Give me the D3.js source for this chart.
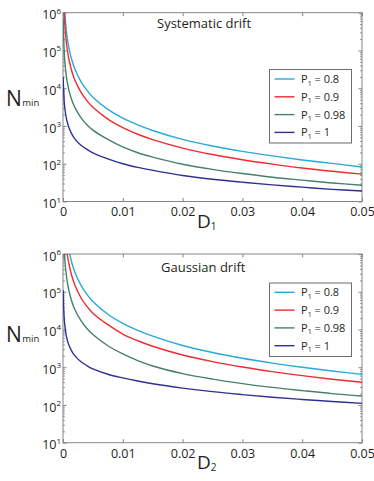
<!DOCTYPE html>
<html>
<head>
<meta charset="utf-8">
<script src="https://cdn.jsdelivr.net/npm/d3@7"></script>
<style>
  html, body { margin: 0; padding: 0; background: #fff; }
  svg { display: block; }
  text { font-family: "Open Sans", "Noto Sans", sans-serif; fill: #231f20; }
</style>
</head>
<body>
<svg id="chart" width="374" height="481"></svg>
<script>
// ---------------- data ----------------
const D = [0.00003, 0.00005, 0.0001, 0.0002, 0.0003, 0.0005, 0.00075, 0.001, 0.0015, 0.002,
           0.003, 0.004, 0.005, 0.0075, 0.01, 0.0125, 0.015, 0.02, 0.025, 0.03, 0.035, 0.04, 0.045, 0.05];

const legendLabels = ["0.8", "0.9", "0.98", "1"];
const seriesColors = ["#27a9d9", "#ee2b30", "#44806a", "#2e3192"];

// Systematic drift (top panel), N_min vs D1
const sysP080 = [null, null, null, 2200000, 1060000, 412000, 195000, 114000, 54000, 31700,
                 15000, 8800, 5800, 2750, 1610, 1070, 760, 440, 294, 212, 161, 126, 102, 82];
const sysP090 = [null, null, 3600000, 1030000, 496000, 198000, 95300, 56800, 27400, 16300,
                 7860, 4680, 3135, 1520, 900, 603, 434, 260, 176, 128, 98, 77, 63, 53];
const sysP098 = [700000, 480000, 260000, 97000, 52700, 24500, 13400, 8670, 4720, 3070,
                 1670, 1085, 776, 440, 278, 195, 150, 97, 71, 55, 44, 36.8, 31, 27];
const sysP100 = [20000, 15000, 9000, 4500, 3000, 1800, 1200, 900, 600, 450,
                 310, 240, 195, 135, 100, 80, 67, 49, 39, 32.5, 27.5, 24, 21, 19];

// Gaussian drift (bottom panel), N_min vs D2
const gauP080 = [null, null, null, null, null, null, null, 1240000, 567000, 325000,
                 149000, 85300, 55500, 25400, 14600, 9470, 6660, 3770, 2460, 1730, 1287, 996, 795, 648];
const gauP090 = [null, null, null, null, null, 1930000, 913000, 536000, 254000, 149000,
                 69400, 40900, 27100, 13400, 7570, 5030, 3600, 2110, 1406, 1010, 762, 597, 482, 398];
const gauP098 = [null, null, null, 1490000, 763000, 328000, 168000, 105000, 53600, 33300,
                 17100, 10600, 7350, 3700, 2250, 1500, 1076, 677, 484, 368, 292, 240, 200, 173];
const gauP100 = [110000, 80000, 42000, 20000, 13000, 7500, 5000, 3800, 2600, 2000,
                 1400, 1100, 900, 650, 520, 430, 365, 280, 225, 188, 160, 140, 124, 110];

const xTicks = [0, 0.01, 0.02, 0.03, 0.04, 0.05];
const xTickLabels = ["0", "0.01", "0.02", "0.03", "0.04", "0.05"];
const yTicks = [1e1, 1e2, 1e3, 1e4, 1e5, 1e6];
const yExponents = ["1", "2", "3", "4", "5", "6"];

const panels = [
  { title: "Systematic drift", xsub: "1", series: [sysP080, sysP090, sysP098, sysP100],
    top: 12.7, bottom: 201.5, titleX: 157, titleY: 28, nY: 106, legTop: 69.5, legRow0: 79 },
  { title: "Gaussian drift", xsub: "2", series: [gauP080, gauP090, gauP098, gauP100],
    top: 254, bottom: 442.7, titleX: 161, titleY: 272, nY: 342, legTop: 283, legRow0: 292.3 }
];

// ---------------- drawing ----------------
const svg = d3.select("#chart");
const left = 63, right = 362;
const axisColor = "#858585";

const minorTicks = [];
for (let e = 1; e < 6; e++) for (let k = 2; k <= 9; k++) minorTicks.push(k * Math.pow(10, e));

panels.forEach((p, pi) => {
  const g = svg.append("g");
  const x = d3.scaleLinear().domain([0, 0.05]).range([left, right]);
  const y = d3.scaleLog().domain([10, 1e6]).range([p.bottom, p.top]);

  const clipId = "clip" + pi;
  g.append("clipPath").attr("id", clipId).append("rect")
    .attr("x", left).attr("y", p.top).attr("width", right - left).attr("height", p.bottom - p.top);

  // minor y ticks (left and right)
  g.append("g").attr("transform", `translate(${left},0)`)
    .call(d3.axisLeft(y).tickValues(minorTicks).tickSize(-1.8).tickFormat(""))
    .call(s => s.select(".domain").remove())
    .call(s => s.selectAll("line").attr("stroke", axisColor));
  g.append("g").attr("transform", `translate(${right},0)`)
    .call(d3.axisRight(y).tickValues(minorTicks).tickSize(-1.8).tickFormat(""))
    .call(s => s.select(".domain").remove())
    .call(s => s.selectAll("line").attr("stroke", axisColor));

  // major y ticks left with labels
  const ya = g.append("g").attr("transform", `translate(${left},0)`)
    .call(d3.axisLeft(y).tickValues(yTicks).tickSize(-3.5).tickPadding(2).tickFormat(""));
  ya.select(".domain").remove();
  ya.selectAll("line").attr("stroke", axisColor);
  ya.selectAll(".tick text").each(function(d, i) {
    const t = d3.select(this);
    t.attr("dy", "0.5em").attr("font-size", "12.5px").attr("fill", "#231f20")
      .attr("font-family", '"Open Sans", sans-serif');
    t.append("tspan").text("10");
    t.append("tspan").attr("dy", "-0.72em").attr("font-size", "8px").text(yExponents[yTicks.indexOf(d)]);
  });
  g.append("g").attr("transform", `translate(${right},0)`)
    .call(d3.axisRight(y).tickValues(yTicks).tickSize(-3.5).tickFormat(""))
    .call(s => s.select(".domain").remove())
    .call(s => s.selectAll("line").attr("stroke", axisColor));

  // x axis bottom with labels
  const xa = g.append("g").attr("transform", `translate(0,${p.bottom})`)
    .call(d3.axisBottom(x).tickValues(xTicks).tickSize(-3.5).tickPadding(6)
      .tickFormat((d, i) => xTickLabels[i]));
  xa.select(".domain").remove();
  xa.selectAll("line").attr("stroke", axisColor);
  xa.selectAll("text").attr("font-size", "12.5px").attr("fill", "#231f20")
    .attr("font-family", '"Open Sans", sans-serif');
  g.append("g").attr("transform", `translate(0,${p.top})`)
    .call(d3.axisTop(x).tickValues(xTicks).tickSize(-3.5).tickFormat(""))
    .call(s => s.select(".domain").remove())
    .call(s => s.selectAll("line").attr("stroke", axisColor));

  // frame
  g.append("rect").attr("x", left).attr("y", p.top)
    .attr("width", right - left).attr("height", p.bottom - p.top)
    .attr("fill", "none").attr("stroke", axisColor).attr("stroke-width", 1);

  // curves
  const line = d3.line()
    .defined(d => d[1] != null)
    .x(d => x(d[0]))
    .y(d => y(d[1]))
    .curve(d3.curveCatmullRom.alpha(0.5));
  const cg = g.append("g").attr("clip-path", `url(#${clipId})`);
  p.series.forEach((vals, si) => {
    cg.append("path")
      .datum(D.map((d, i) => [d, vals[i]]))
      .attr("fill", "none")
      .attr("stroke", seriesColors[si])
      .attr("stroke-width", 1.4)
      .attr("d", line);
  });

  // title
  g.append("text").attr("x", p.titleX).attr("y", p.titleY)
    .attr("font-size", "13px").text(p.title);

  // y label N_min
  const nt = g.append("text").attr("x", 6).attr("y", p.nY).attr("font-size", "21px");
  nt.append("tspan").text("N");
  nt.append("tspan").attr("font-size", "9.5px").attr("dx", "0.5").text("min");

  // x label D_i
  const dt = g.append("text").attr("x", 197).attr("y", p.bottom + 26.5).attr("font-size", "19px");
  dt.append("tspan").text("D");
  dt.append("tspan").attr("font-size", "10px").attr("dy", "2").text(p.xsub);

  // legend
  const lg = g.append("g");
  const rowH = 17.8;
  lg.append("rect").attr("x", 269.5).attr("y", p.legTop)
    .attr("width", 82).attr("height", 73.5)
    .attr("fill", "#fff").attr("stroke", "#6d6d6d").attr("stroke-width", 1);
  legendLabels.forEach((lab, i) => {
    const yy = p.legRow0 + i * rowH;
    lg.append("line").attr("x1", 274.5).attr("x2", 294.5).attr("y1", yy).attr("y2", yy)
      .attr("stroke", seriesColors[i]).attr("stroke-width", 1.4);
    const t = lg.append("text").attr("x", 301).attr("y", yy + 4).attr("font-size", "11px");
    t.append("tspan").text("P");
    t.append("tspan").attr("font-size", "7px").attr("dy", "2.5").text("1");
    t.append("tspan").attr("dy", "-2.5").text(" = " + lab);
  });
});
</script>
</body>
</html>
